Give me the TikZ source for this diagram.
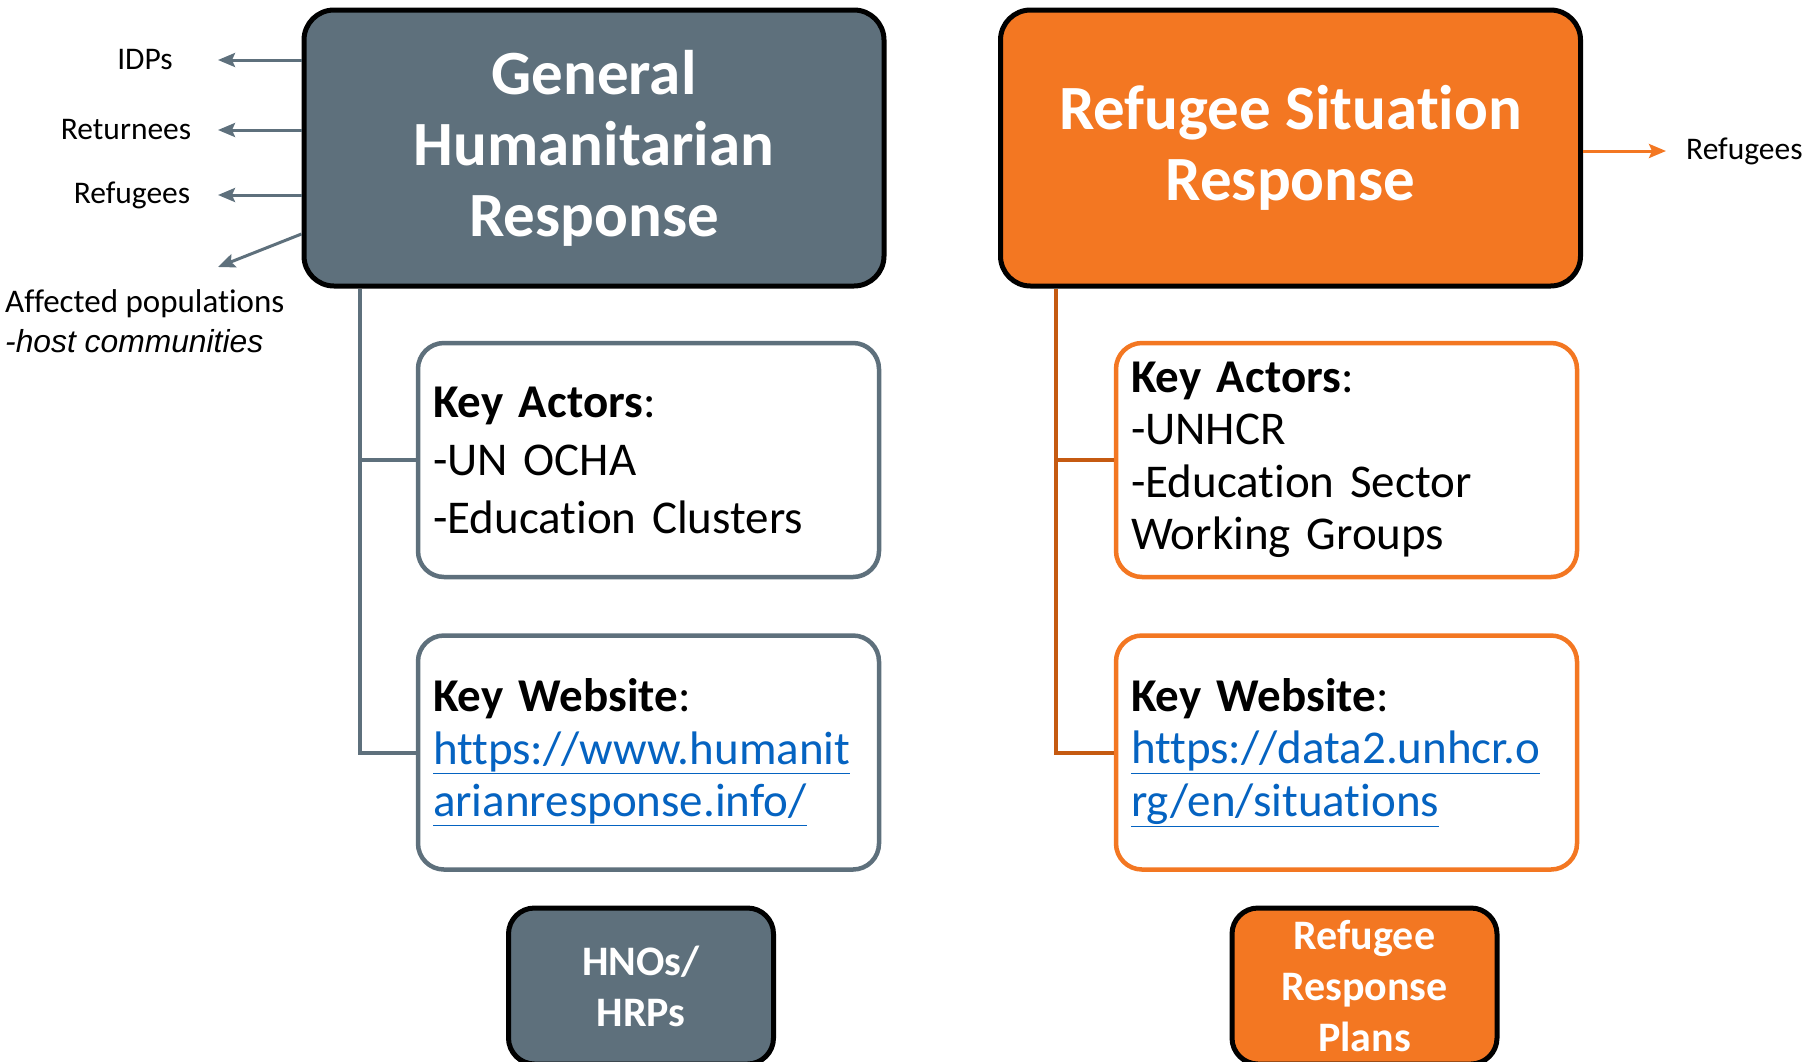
\documentclass[tikz,border=0pt]{standalone}
\usepackage{fontspec}
\setmainfont{Carlito}[Ligatures=NoCommon]
\newfontfamily\arialfont{Liberation Sans}
\usetikzlibrary{arrows.meta}
\definecolor{slate}{HTML}{5E707C}
\definecolor{tangerine}{HTML}{F37722}
\definecolor{rust}{HTML}{C55A11}
\definecolor{linkblue}{HTML}{0563C1}

\begin{document}
\begin{tikzpicture}[x=1pt,y=-1pt,
  headbox/.style={draw=black, line width=5pt, rounded corners=30pt, text=white, align=center, font=\fontsize{63}{71}\selectfont\bfseries, minimum width=580pt, minimum height=276pt},
  planbox/.style={draw=black, line width=5pt, rounded corners=26pt, text=white, align=center, font=\fontsize{42}{51}\selectfont\bfseries, minimum width=265pt, minimum height=156pt},
  infobox/.style={draw=#1, line width=4.5pt, rounded corners=26pt, fill=white, align=left, text width=431pt, inner xsep=15pt, minimum height=234pt, font=\fontsize{47}{52.5}\selectfont},
  tag/.style={font=\fontsize{31.5}{36}\selectfont, inner sep=0pt},
  trunk/.style={draw=#1, line width=4pt},
  pointer/.style={draw=#1, line width=3pt, -{Stealth[length=17pt,width=14pt,inset=3pt]}}]

\useasboundingbox (0,0) rectangle (1819,1061);

% response boxes
\node[headbox, fill=slate] (ghr) at (594,148) {General\\Humanitarian\\Response};
\node[headbox, fill=tangerine] (rsr) at (1290.5,148) {Refugee Situation\\Response};

% actors and websites
\node[infobox=slate, font=\fontsize{47}{58}\selectfont] (ghrActors) at (648.5,460) {\textbf{Key Actors}:\\-UN OCHA\\-Education Clusters};
\node[infobox=slate] (ghrSite) at (648.5,752.5) {\textbf{Key Website}:\\\textcolor{linkblue}{\underline{https://www.humanit}}\\\textcolor{linkblue}{\underline{arianresponse.info/}}};
\node[infobox=tangerine] (rsrActors) at (1346.5,460) {\textbf{Key Actors}:\\-UNHCR\\-Education Sector\\Working Groups};
\node[infobox=tangerine] (rsrSite) at (1346.5,752.5) {\textbf{Key Website}:\\\textcolor{linkblue}{\underline{https://data2.unhcr.o}}\\\textcolor{linkblue}{\underline{rg/en/situations}}};

% plans
\node[planbox, fill=slate] (hno) at (641,986) {HNOs/\\HRPs};
\node[planbox, fill=tangerine] (rrp) at (1364.5,986) {Refugee\\Response\\Plans};

% trunks
\coordinate (ghrRoot) at ([xshift=58pt]ghr.south west);
\coordinate (rsrRoot) at ([xshift=58pt]rsr.south west);
\draw[trunk=slate] (ghrRoot) |- (ghrSite.west);
\draw[trunk=slate] (ghrRoot |- ghrActors.west) -- (ghrActors.west);
\draw[trunk=rust] (rsrRoot) |- (rsrSite.west);
\draw[trunk=rust] (rsrRoot |- rsrActors.west) -- (rsrActors.west);

% populations
\node[tag] (idp) at (145,60) {IDPs};
\node[tag] (ret) at (126,130) {Returnees};
\node[tag] (refL) at (132,195) {Refugees};
\node[tag, align=left, anchor=west, font=\fontsize{33}{39.5}\selectfont] (aff) at (5,321) {Affected populations\\{\arialfont\itshape\fontsize{31.8}{39.5}\selectfont -host communities}};
\node[tag, anchor=west] (refR) at (1686,151) {Refugees};

\coordinate (idpTip) at (218,60);
\coordinate (retTip) at (218,130);
\coordinate (refTip) at (218,195);
\coordinate (affTip) at (218,267);
\draw[pointer=slate] (ghr.west |- idpTip) -- (idpTip);
\draw[pointer=slate] (ghr.west |- retTip) -- (retTip);
\draw[pointer=slate] (ghr.west |- refTip) -- (refTip);
\draw[pointer=slate] ([yshift=-86pt]ghr.west) -- (affTip);
\draw[pointer=tangerine] (rsr.east |- refR) -- ([xshift=-20pt]refR.west);

\end{tikzpicture}
\end{document}
